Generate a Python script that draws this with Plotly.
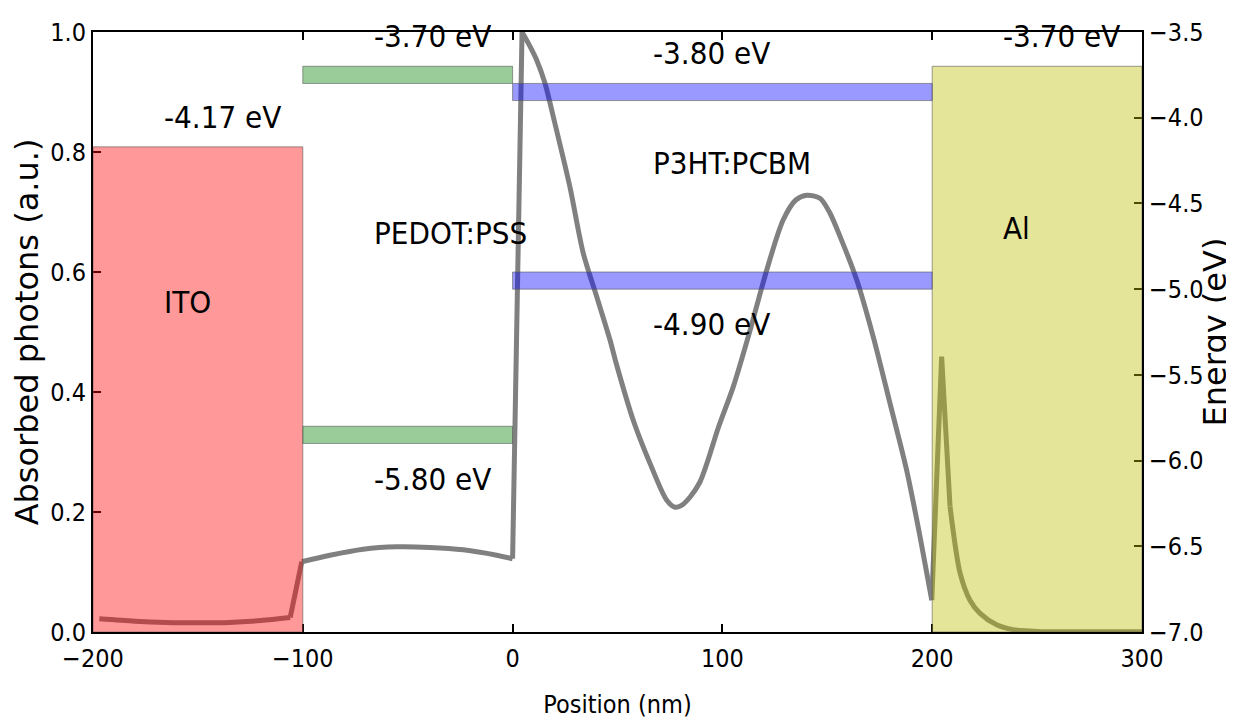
import plotly.graph_objects as go

# ---- data ----
position_nm = [-197, -180, -165, -150, -135, -120, -106, -100.5,
               -87, -71.2, -55.2, -39.4, -23.5, -7.6, 0,
               4.5, 8.3, 11.5, 15.4, 20, 27.3, 33.7, 40, 46.4, 49.6, 57.5, 65.5,
               73.4, 77.4, 80.5, 84.6, 89.3, 93, 98, 105.2, 113.2, 121.1, 129.0,
               135, 140.2, 146.5, 151, 156.1, 164.0, 171.9, 179.9, 187.8, 194.2,
               199.8, 204.5, 208.5, 213.3, 218, 222.8, 230.7, 238.6, 250, 275, 300]
absorbed = [0.022, 0.018, 0.016, 0.0155, 0.016, 0.019, 0.024, 0.117,
            0.128, 0.138, 0.142, 0.141, 0.137, 0.128, 0.122,
            1.0, 0.976, 0.953, 0.915, 0.85, 0.742, 0.631, 0.56, 0.487, 0.445, 0.353, 0.281,
            0.22, 0.208, 0.211, 0.225, 0.25, 0.285, 0.34, 0.409, 0.503, 0.603, 0.687,
            0.72, 0.728, 0.723, 0.70, 0.659, 0.587, 0.492, 0.381, 0.27, 0.159,
            0.053, 0.459, 0.209, 0.098, 0.053, 0.031, 0.012, 0.004, 0.001, 0.0005, 0.0005]
# index ranges of smooth pieces (the jumps at interfaces are drawn straight)
smooth_pieces = [(0, 6), (7, 14), (15, 48), (50, 58)]
straight_pieces = [(6, 7), (14, 15), (48, 50)]

layer_names = ["ITO", "PEDOT:PSS", "P3HT:PCBM", "Al"]
layer_x0 = [-200, -100, 0, 200]
layer_x1 = [-100, 0, 200, 300]
# electrodes: work function (filled block)
electrode_layers = [0, 3]
electrode_energy = [-4.17, -3.70]
electrode_color = ["rgba(255,0,0,0.4)", "rgba(191,191,0,0.4)"]
# organic layers: LUMO / HOMO levels
band_layers = [1, 2]
lumo = [-3.70, -3.80]
homo = [-5.80, -4.90]
band_color = ["rgba(0,128,0,0.4)", "rgba(0,0,255,0.4)"]
band_thickness = 0.1
label_energy_center = [-5.075, -4.673, -4.264, -4.643]

x_ticks = [-200, -100, 0, 100, 200, 300]
x_ticktext = ["\u2212200", "\u2212100", "0", "100", "200", "300"]
y_ticks = [0.0, 0.2, 0.4, 0.6, 0.8, 1.0]
y_ticktext = ["0.0", "0.2", "0.4", "0.6", "0.8", "1.0"]
y2_ticks = [-7.0, -6.5, -6.0, -5.5, -5.0, -4.5, -4.0, -3.5]
y2_ticktext = ["\u22127.0", "\u22126.5", "\u22126.0", "\u22125.5", "\u22125.0", "\u22124.5", "\u22124.0", "\u22123.5"]

E_MIN, E_MAX = -7.0, -3.5
NARROW = "DejaVu Sans Condensed, DejaVu Sans, sans-serif"

fig = go.Figure()
line_style = dict(color="#808080", width=5)
for a, b in straight_pieces:
    fig.add_trace(go.Scatter(x=position_nm[a:b + 1], y=absorbed[a:b + 1], mode="lines",
                             line=line_style, showlegend=False, hoverinfo="skip"))
for a, b in smooth_pieces:
    fig.add_trace(go.Scatter(x=position_nm[a:b + 1], y=absorbed[a:b + 1], mode="lines",
                             line=dict(shape="spline", smoothing=0.8, **line_style),
                             showlegend=False, hoverinfo="skip"))
# invisible trace to activate y2
fig.add_trace(go.Scatter(x=[layer_x0[0]], y=[E_MIN], yaxis="y2", mode="markers",
                         marker=dict(opacity=0), showlegend=False, hoverinfo="skip"))

shapes = []
annotations = []
edge = dict(color="rgba(90,90,90,0.6)", width=1)
for i, li in enumerate(electrode_layers):
    shapes.append(dict(type="rect", xref="x", yref="y2", x0=layer_x0[li], x1=layer_x1[li],
                       y0=E_MIN, y1=electrode_energy[i], fillcolor=electrode_color[i],
                       line=edge, layer="above"))
    xl = layer_x0[li] + (layer_x1[li] - layer_x0[li]) / 3
    annotations.append(dict(x=xl, y=electrode_energy[i] + 0.175, xref="x", yref="y2",
                            text="%.2f eV" % electrode_energy[i], showarrow=False,
                            xanchor="left", yanchor="middle"))
for i, li in enumerate(band_layers):
    for e in (lumo[i], homo[i]):
        shapes.append(dict(type="rect", xref="x", yref="y2", x0=layer_x0[li], x1=layer_x1[li],
                           y0=e - band_thickness, y1=e, fillcolor=band_color[i],
                           line=edge, layer="above"))
    xl = layer_x0[li] + (layer_x1[li] - layer_x0[li]) / 3
    annotations.append(dict(x=xl, y=lumo[i] + 0.175, xref="x", yref="y2",
                            text="%.2f eV" % lumo[i], showarrow=False,
                            xanchor="left", yanchor="middle"))
    annotations.append(dict(x=xl, y=homo[i] - 0.305, xref="x", yref="y2",
                            text="%.2f eV" % homo[i], showarrow=False,
                            xanchor="left", yanchor="middle"))
for li, name in enumerate(layer_names):
    xl = layer_x0[li] + (layer_x1[li] - layer_x0[li]) / 3
    annotations.append(dict(x=xl, y=label_energy_center[li], xref="x", yref="y2",
                            text=name, showarrow=False, xanchor="left", yanchor="middle"))

for a in annotations:
    a["font"] = dict(family=NARROW, size=31, color="black")
    a["borderpad"] = 0

axis_common = dict(showgrid=False, zeroline=False, ticks="inside", ticklen=8, tickwidth=1.5,
                   tickcolor="black", showline=True, linecolor="black", linewidth=2,
                   automargin=False,
                   tickfont=dict(family=NARROW, size=25, color="black"))

# the page body has an 8px margin, so the figure is drawn 8px smaller and offset
fig.update_layout(
    width=1226, height=711,
    margin=dict(l=85, r=92, t=24, b=87),
    paper_bgcolor="white", plot_bgcolor="white",
    shapes=shapes, annotations=annotations,
    xaxis=dict(range=[-200, 300], tickvals=x_ticks, ticktext=x_ticktext, mirror="ticks",
               ticklabelstandoff=3,
               title=dict(text="Position (nm)", font=dict(family=NARROW, size=25, color="black"),
                          standoff=26),
               **axis_common),
    yaxis=dict(range=[0, 1], tickvals=y_ticks, ticktext=y_ticktext,
               title=dict(text="Absorbed photons (a.u.)",
                          font=dict(family="DejaVu Sans", size=32, color="black"), standoff=3),
               **axis_common),
    yaxis2=dict(range=[E_MIN, E_MAX], tickvals=y2_ticks, ticktext=y2_ticktext,
                overlaying="y", side="right",
                title=dict(text="Energy (eV)",
                           font=dict(family="DejaVu Sans", size=32, color="black"), standoff=8),
                **axis_common),
)

fig.write_html("out.html")
